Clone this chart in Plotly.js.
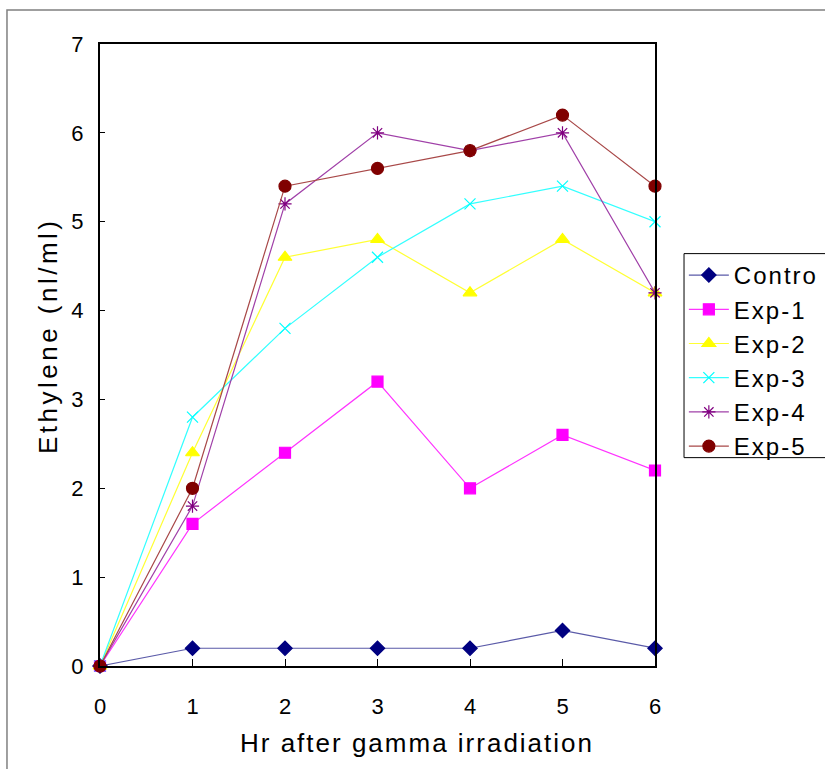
<!DOCTYPE html>
<html>
<head>
<meta charset="utf-8">
<script src="https://cdn.plot.ly/plotly-3.0.1.min.js"></script>
<style>
html,body{margin:0;padding:0;background:#fff;}
#chart .legendtext{letter-spacing:2px;}
#chart .annotation-text{letter-spacing:2px;}
</style>
</head>
<body>
<div id="chart" style="width:825px;height:769px;"></div>
<script>
const hours = [0, 1, 2, 3, 4, 5, 6];
const seriesNames = ["Control", "Exp-1", "Exp-2", "Exp-3", "Exp-4", "Exp-5"];
const control = [0, 0.2, 0.2, 0.2, 0.2, 0.4, 0.2];
const exp1 = [0, 1.6, 2.4, 3.2, 2.0, 2.6, 2.2];
const exp2 = [0, 2.4, 4.6, 4.8, 4.2, 4.8, 4.2];
const exp3 = [0, 2.8, 3.8, 4.6, 5.2, 5.4, 5.0];
const exp4 = [0, 1.8, 5.2, 6.0, 5.8, 6.0, 4.2];
const exp5 = [0, 2.0, 5.4, 5.6, 5.8, 6.2, 5.4];
const xTickLabels = ["0", "1", "2", "3", "4", "5", "6"];
const yTickLabels = ["0", "1", "2", "3", "4", "5", "6", "7"];
const xTitle = "Hr after gamma irradiation";
const yTitle = "Ethylene (nl/ml)";

const values = [control, exp1, exp2, exp3, exp4, exp5];
const styles = [
  {line: "#5a5aa8", marker: "#000080", symbol: "diamond", size: 11},
  {line: "#ff33ff", marker: "#ff00ff", symbol: "square", size: 11},
  {line: "#ffff33", marker: "#ffff00", symbol: "triangle-up", size: 12},
  {line: "#33ffff", marker: "#00ffff", symbol: "x-thin-open", size: 11},
  {line: "#a040a8", marker: "#800080", symbol: "asterisk-open", size: 11},
  {line: "#a84848", marker: "#800000", symbol: "circle", size: 12}
];

const traces = values.map((v, i) => ({
  x: hours,
  y: v,
  name: seriesNames[i],
  type: "scatter",
  mode: "lines+markers",
  line: {color: styles[i].line, width: 1.2},
  marker: {symbol: styles[i].symbol, size: styles[i].size, color: styles[i].marker,
           line: {color: styles[i].marker, width: 1.2}},
  cliponaxis: false
}));

const font = "Liberation Sans, Arial, sans-serif";
const layout = {
  width: 825, height: 769,
  margin: {l: 100, r: 170, t: 44, b: 103, autoexpand: false},
  paper_bgcolor: "#fff", plot_bgcolor: "#fff",
  font: {family: font, size: 22, color: "#000"},
  showlegend: true,
  legend: {
    x: 1.052, y: 0.664, xanchor: "left", yanchor: "top",
    borderwidth: 0, bgcolor: "rgba(0,0,0,0)",
    font: {family: font, size: 24, color: "#000"},
    tracegroupgap: 0, itemwidth: 40
  },
  xaxis: {
    range: [0, 6], tickvals: hours, ticktext: xTickLabels,
    showgrid: false, zeroline: false,
    showline: true, linecolor: "#000", linewidth: 2, mirror: true,
    ticks: "inside", ticklen: 7, tickcolor: "#000", tickwidth: 1,
    tickfont: {family: font, size: 22}, ticklabelstandoff: 20
  },
  yaxis: {
    range: [0, 7], tickvals: [0,1,2,3,4,5,6,7], ticktext: yTickLabels,
    showgrid: false, zeroline: false,
    showline: true, linecolor: "#000", linewidth: 2, mirror: true,
    ticks: "inside", ticklen: 5, tickcolor: "#000", tickwidth: 1,
    tickfont: {family: font, size: 22}, ticklabelstandoff: 10
  },
  annotations: [
    {text: xTitle, xref: "paper", yref: "paper", x: 0.571, y: -0.1238,
     xanchor: "center", yanchor: "middle", showarrow: false,
     font: {family: font, size: 26, color: "#000"}},
    {text: yTitle, xref: "paper", yref: "paper", x: -0.0937, y: 0.532,
     xanchor: "center", yanchor: "middle", showarrow: false, textangle: -90,
     font: {family: font, size: 26, color: "#000"}}
  ],
  shapes: [{
    type: "rect", xref: "paper", yref: "paper",
    x0: -0.1676, x1: 1.5, y0: -0.3, y1: 1.0547,
    line: {color: "#808080", width: 1.5}, fillcolor: "rgba(0,0,0,0)", layer: "below"
  }, {
    type: "rect", xref: "paper", yref: "paper",
    x0: 1.0523, x1: 1.5, y0: 0.335, y1: 0.663,
    line: {color: "#000", width: 1}, fillcolor: "#fff", layer: "below"
  }]
};

Plotly.newPlot("chart", traces, layout, {displayModeBar: false, staticPlot: true}).then(gd => {
  const t = gd.querySelectorAll(".annotation-text");
  if (t[1]) t[1].style.letterSpacing = "3.5px";
});
</script>
</body>
</html>
